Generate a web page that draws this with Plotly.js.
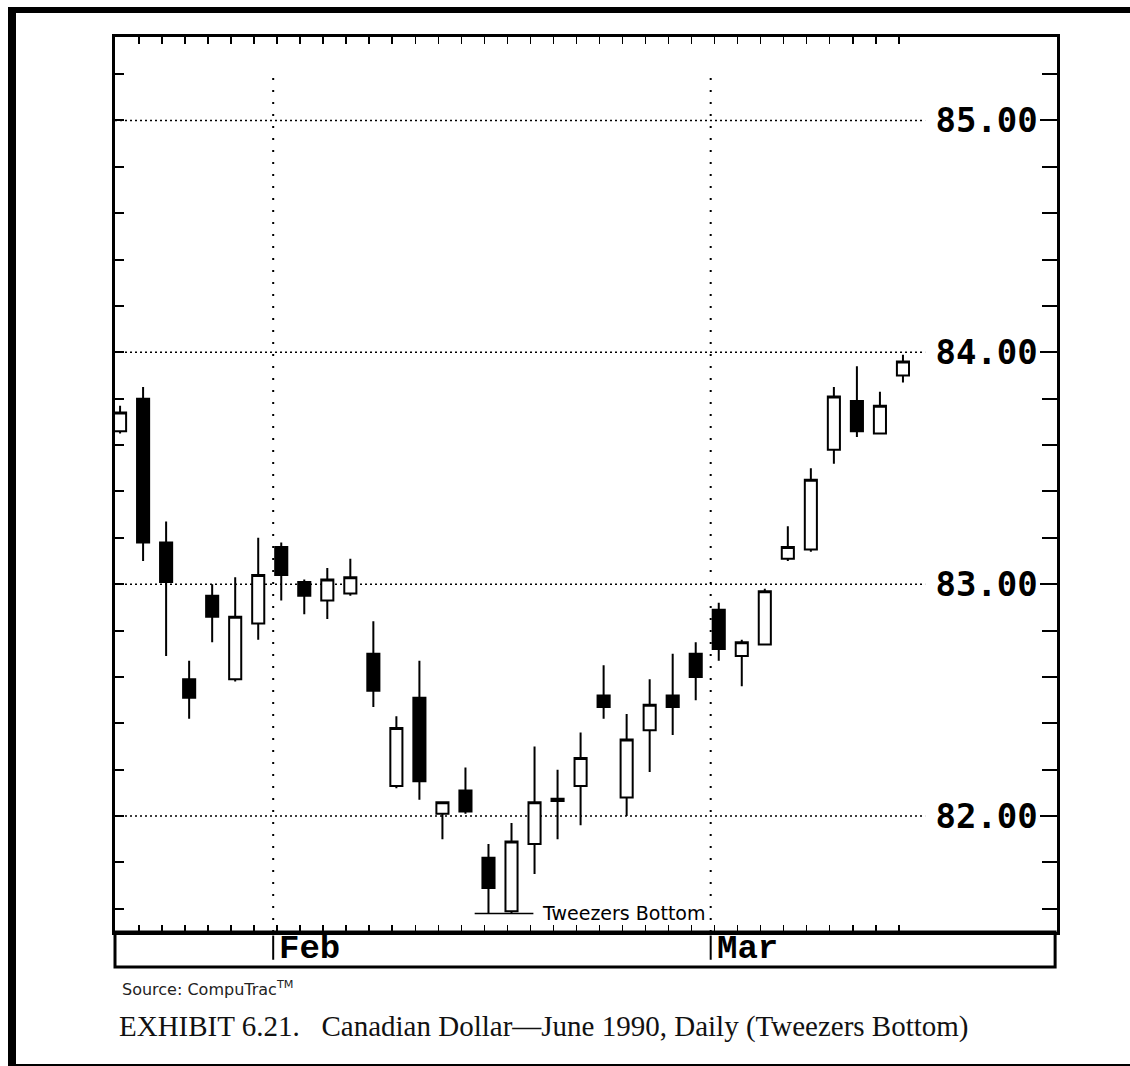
<!DOCTYPE html>
<html><head><meta charset="utf-8">
<script src="https://cdn.plot.ly/plotly-3.0.1.min.js"></script>
<style>
html,body{margin:0;padding:0;background:#fff;}
#chart{position:absolute;left:0;top:0;width:1130px;height:1066px;}
#frame{position:absolute;left:8px;top:7px;width:1122px;height:1059px;box-sizing:border-box;border-top:6px solid #000;border-left:8px solid #000;border-bottom:2px solid #000;pointer-events:none;}
</style>
</head><body>
<div id="chart"></div><div id="frame"></div>
<script>
// Trading sessions (Canadian Dollar, June 1990 contract, daily)
const sessions = [
  '1990-01-23','1990-01-24','1990-01-25','1990-01-26','1990-01-29','1990-01-30','1990-01-31',
  '1990-02-01','1990-02-02','1990-02-05','1990-02-06','1990-02-07','1990-02-08','1990-02-09',
  '1990-02-12','1990-02-13','1990-02-14','1990-02-15','1990-02-16','1990-02-20','1990-02-21',
  '1990-02-22','1990-02-23','1990-02-26','1990-02-27','1990-02-28',
  '1990-03-01','1990-03-02','1990-03-05','1990-03-06','1990-03-07','1990-03-08','1990-03-09',
  '1990-03-12','1990-03-13'
];
const openP  = [83.66,83.80,83.18,82.59,82.95,82.59,82.83,83.16,83.01,82.93,82.96,82.70,82.13,82.51,82.01,82.11,81.82,81.59,81.88,82.065,82.13,82.52,82.08,82.37,82.52,82.70,82.89,82.69,82.74,83.11,83.15,83.58,83.79,83.65,83.90];
const highP  = [83.77,83.85,83.27,82.67,83.00,83.03,83.20,83.18,83.02,83.07,83.11,82.84,82.43,82.67,82.06,82.21,81.88,81.97,82.30,82.20,82.36,82.65,82.44,82.59,82.70,82.75,82.92,82.76,82.98,83.25,83.50,83.85,83.94,83.83,83.99];
const lowP   = [83.65,83.10,82.69,82.42,82.75,82.58,82.76,82.93,82.87,82.85,82.95,82.47,82.12,82.07,81.90,82.01,81.58,81.58,81.75,81.90,81.96,82.42,82.00,82.19,82.35,82.50,82.67,82.56,82.74,83.10,83.14,83.52,83.635,83.65,83.87];
const closeP = [83.74,83.18,83.01,82.51,82.86,82.86,83.04,83.04,82.95,83.02,83.03,82.54,82.38,82.15,82.06,82.02,81.69,81.89,82.06,82.075,82.25,82.47,82.33,82.48,82.47,82.60,82.72,82.75,82.97,83.16,83.45,83.81,83.66,83.77,83.96];
const priceTicks  = [82, 83, 84, 85];
const priceLabels = ['82.00', '83.00', '84.00', '85.00'];
const monthLabels = ['Feb', 'Mar'];
const monthStarts = ['1990-02-01', '1990-03-01'];
const tweezerDays = ['1990-02-14', '1990-02-15'];
const tweezerText = 'Tweezers Bottom';
const sourceText = 'Source: CompuTrac<sup>TM</sup>';
const captionText = 'EXHIBIT 6.21.   Canadian Dollar\u2014June 1990, Daily (Tweezers Bottom)';

const xIdx = sessions.map((d, i) => i);
const xr = [-0.22, 40.69];
const yr = [81.50, 85.36];
const toPX = v => (v - xr[0]) / (xr[1] - xr[0]);

const monthPos = monthStarts.map(d => sessions.indexOf(d) - 0.35);
const tIdx = tweezerDays.map(d => sessions.indexOf(d));
const tLow = Math.min(...tIdx.map(i => lowP[i]));

const shapes = [];
priceTicks.forEach(v => shapes.push({type:'line', xref:'paper', yref:'y', x0:0, x1:0.86, y0:v, y1:v,
  line:{color:'#000', width:1.5, dash:'2px,3px'}, layer:'below'}));
monthPos.forEach(p => {
  shapes.push({type:'line', xref:'x', yref:'paper', x0:p, x1:p, y0:0, y1:0.965,
    line:{color:'#000', width:2, dash:'2px,10px'}, layer:'below'});
  shapes.push({type:'line', xref:'paper', yref:'paper', x0:toPX(p), x1:toPX(p), y0:-0.004, y1:-0.031,
    line:{color:'#000', width:2}});
});
shapes.push({type:'rect', xref:'paper', yref:'paper', x0:0, x1:0.998, y0:-0.039, y1:0,
  line:{color:'#000', width:3}, fillcolor:'rgba(0,0,0,0)'});
shapes.push({type:'line', xref:'x', yref:'y', x0:tIdx[0]-0.6, x1:tIdx[1]+0.95, y0:tLow, y1:tLow,
  line:{color:'#000', width:1.5}});

const annotations = [];
monthPos.forEach((p, k) => annotations.push({xref:'paper', yref:'paper', x:toPX(p), y:-0.0185,
  xanchor:'left', yanchor:'middle', xshift:4, showarrow:false, text:monthLabels[k],
  font:{family:'Liberation Mono', size:34, color:'#000', weight:'bold'}}));
annotations.push({xref:'x', yref:'y', x:tIdx[1]+1.25, y:tLow, xanchor:'left', yanchor:'middle',
  showarrow:false, text:tweezerText, font:{family:'DejaVu Sans', size:19, color:'#000'}});
annotations.push({xref:'paper', yref:'paper', x:0.005, y:-0.0626, xanchor:'left', yanchor:'middle',
  showarrow:false, text:sourceText, font:{family:'DejaVu Sans', size:16, color:'#222'}});
annotations.push({xref:'paper', yref:'paper', x:0.002, y:-0.106, xanchor:'left', yanchor:'middle',
  showarrow:false, text:captionText, font:{family:'Liberation Serif', size:29, color:'#111'}});

const traces = [
  {type:'candlestick', x:xIdx, open:openP, high:highP, low:lowP, close:closeP,
   increasing:{line:{color:'#000', width:2}, fillcolor:'#fff'},
   decreasing:{line:{color:'#000', width:2}, fillcolor:'#000'},
   whiskerwidth:0, hoverinfo:'skip', showlegend:false},
  {type:'scatter', x:[], y:[], yaxis:'y2', hoverinfo:'skip', showlegend:false}
];

const layout = {
  width:1130, height:1066,
  margin:{l:115, r:73, t:37, b:134, pad:0},
  paper_bgcolor:'#fff', plot_bgcolor:'#fff',
  showlegend:false, boxgap:0.25,
  xaxis:{range:xr, showgrid:false, zeroline:false, showline:true, linewidth:3, linecolor:'#000',
    mirror:'ticks', ticks:'inside', ticklen:7, tickwidth:1.5, tickcolor:'#000',
    tickmode:'array', tickvals:xIdx.slice(1).map(v => v - 0.18), showticklabels:false,
    rangeslider:{visible:false}, fixedrange:true},
  yaxis:{range:yr, showgrid:false, zeroline:false, showline:true, linewidth:3, linecolor:'#000',
    ticks:'inside', ticklen:9, tickwidth:2, tickcolor:'#000', tickmode:'linear', tick0:82, dtick:0.2,
    showticklabels:false, fixedrange:true},
  yaxis2:{overlaying:'y', side:'right', range:yr, showgrid:false, zeroline:false, showline:true,
    linewidth:3, linecolor:'#000', ticks:'inside', ticklen:17, tickwidth:2, tickcolor:'#000',
    tickmode:'array', tickvals:priceTicks, ticktext:priceLabels, ticklabelposition:'inside',
    ticklabelstandoff:6,
    tickfont:{family:'DejaVu Sans Mono', size:34, color:'#000', weight:'bold'},
    minor:{tickmode:'linear', tick0:82, dtick:0.2, ticks:'inside', ticklen:15, tickwidth:2, tickcolor:'#000'},
    fixedrange:true},
  shapes:shapes, annotations:annotations
};

Plotly.newPlot('chart', traces, layout, {staticPlot:true, displayModeBar:false});
</script>
</body></html>
